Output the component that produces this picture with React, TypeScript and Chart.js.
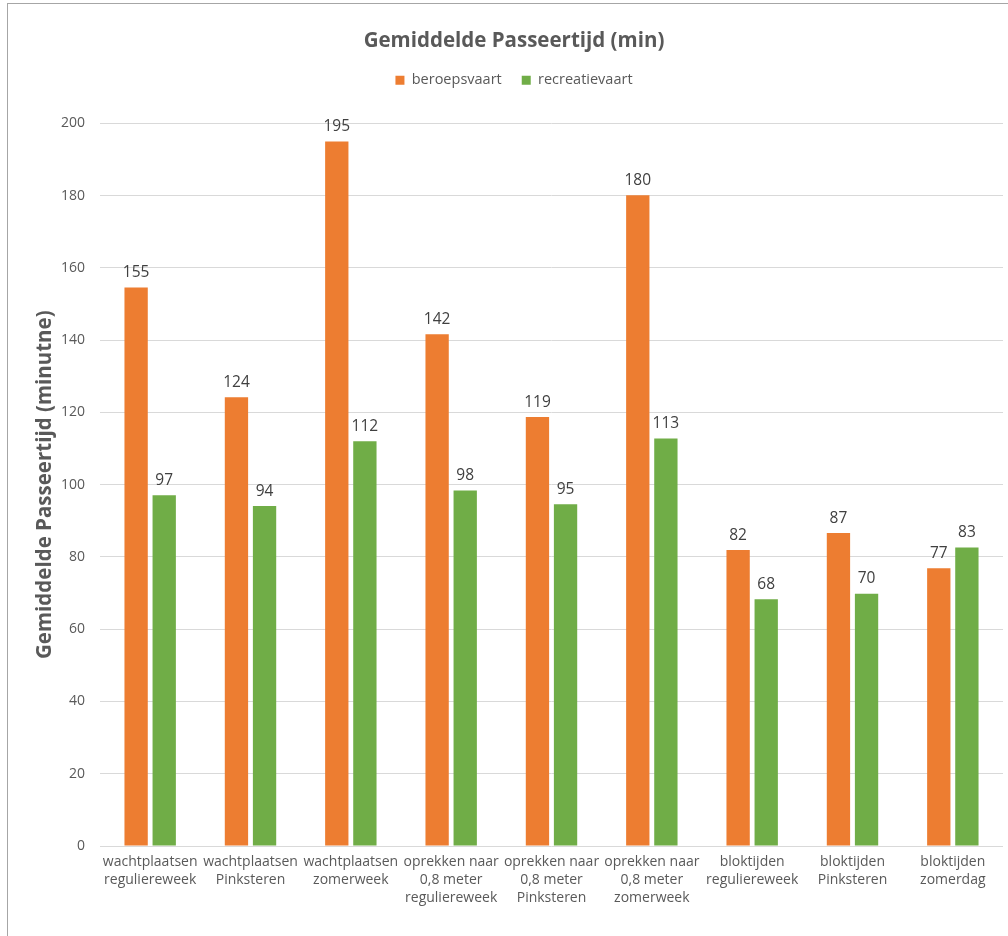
import React, { useEffect, useRef } from "react";
import { Chart, registerables } from "chart.js";

Chart.register(...registerables);

const categories: string[][] = [
  ["wachtplaatsen", "reguliereweek"],
  ["wachtplaatsen", "Pinksteren"],
  ["wachtplaatsen", "zomerweek"],
  ["oprekken naar", "0,8 meter", "reguliereweek"],
  ["oprekken naar", "0,8 meter", "Pinksteren"],
  ["oprekken naar", "0,8 meter", "zomerweek"],
  ["bloktijden", "reguliereweek"],
  ["bloktijden", "Pinksteren"],
  ["bloktijden", "zomerdag"],
];

const beroepsvaart: number[] = [154.6, 124.2, 195.0, 141.6, 118.7, 180.1, 81.9, 86.6, 76.9];
const recreatievaart: number[] = [97.1, 94.1, 112.0, 98.4, 94.6, 112.8, 68.3, 69.8, 82.6];

const seriesNames: string[] = ["beroepsvaart", "recreatievaart"];
const chartTitle = "Gemiddelde Passeertijd (min)";
const yAxisTitle = "Gemiddelde Passeertijd (minutne)";
const yMin = 0;
const yMax = 200;
const yStep = 20;

const FONT = '"Open Sans", "Liberation Sans", sans-serif';
const GRAY = "#595959";

const valueLabels = {
  id: "valueLabels",
  afterDatasetsDraw(chart: any) {
    const ctx = chart.ctx;
    ctx.save();
    ctx.font = `15.5px ${FONT}`;
    ctx.fillStyle = "#404040";
    ctx.textAlign = "center";
    ctx.textBaseline = "bottom";
    chart.data.datasets.forEach((ds: any, i: number) => {
      const meta = chart.getDatasetMeta(i);
      meta.data.forEach((bar: any, j: number) => {
        ctx.fillText(String(Math.round(ds.data[j])), bar.x, bar.y - 7);
      });
    });
    ctx.restore();
  },
};

export default function App() {
  const ref = useRef<HTMLCanvasElement | null>(null);

  useEffect(() => {
    if (!ref.current) return;
    const chart = new Chart(ref.current, {
      type: "bar",
      data: {
        labels: categories,
        datasets: [
          {
            label: seriesNames[0],
            data: beroepsvaart,
            backgroundColor: "#ED7D31",
            categoryPercentage: 0.56,
            barPercentage: 0.83,
          },
          {
            label: seriesNames[1],
            data: recreatievaart,
            backgroundColor: "#70AD47",
            categoryPercentage: 0.56,
            barPercentage: 0.83,
          },
        ],
      },
      options: {
        responsive: false,
        animation: false,
        layout: { padding: { top: 28.5, left: 25, right: 5, bottom: 0 } },
        plugins: {
          title: {
            display: true,
            text: chartTitle,
            color: GRAY,
            font: { family: FONT, size: 20.5, weight: "bold" },
            padding: { top: 0, bottom: 0 },
          },
          subtitle: {
            display: true,
            text: " ",
            position: "top",
            weight: 500,
            font: { family: FONT, size: 10 },
            padding: { top: 0, bottom: 13.75 },
          } as any,
          legend: {
            display: true,
            position: "top",
            labels: {
              color: GRAY,
              font: { family: FONT, size: 14.5 },
              boxWidth: 9,
              boxHeight: 9,
              padding: 20,
            },
          },
          tooltip: { enabled: false },
        },
        scales: {
          x: {
            grid: { display: false, drawTicks: false },
            border: { display: false },
            ticks: {
              color: GRAY,
              font: { family: FONT, size: 14, lineHeight: 1.29 },
              maxRotation: 0,
              autoSkip: false,
              padding: 7,
            },
            afterFit: (s: any) => {
              s.height = 90;
            },
          },
          y: {
            min: yMin,
            max: yMax,
            grid: { color: "#d9d9d9", drawTicks: false },
            border: { display: false },
            ticks: {
              stepSize: yStep,
              color: GRAY,
              font: { family: FONT, size: 14 },
              padding: 15,
            },
            title: {
              display: true,
              text: yAxisTitle,
              color: GRAY,
              font: { family: FONT, size: 20.5, weight: "bold" },
              padding: { top: 8, bottom: 0 },
            },
            afterFit: (s: any) => {
              s.width = 75;
            },
          },
        },
      },
      plugins: [valueLabels],
    });
    return () => chart.destroy();
  }, []);

  return (
    <div
      style={{
        position: "fixed",
        left: 0,
        top: 0,
        width: 1008,
        height: 936,
        overflow: "hidden",
        background: "#ffffff",
      }}
    >
      <div
        style={{
          position: "absolute",
          left: 7,
          top: 3,
          width: 1100,
          height: 1000,
          border: "1px solid #a6a6a6",
        }}
      />
      <canvas
        ref={ref}
        width={1008}
        height={936}
        style={{ position: "absolute", left: 0, top: 0, width: 1008, height: 936 }}
      />
    </div>
  );
}
